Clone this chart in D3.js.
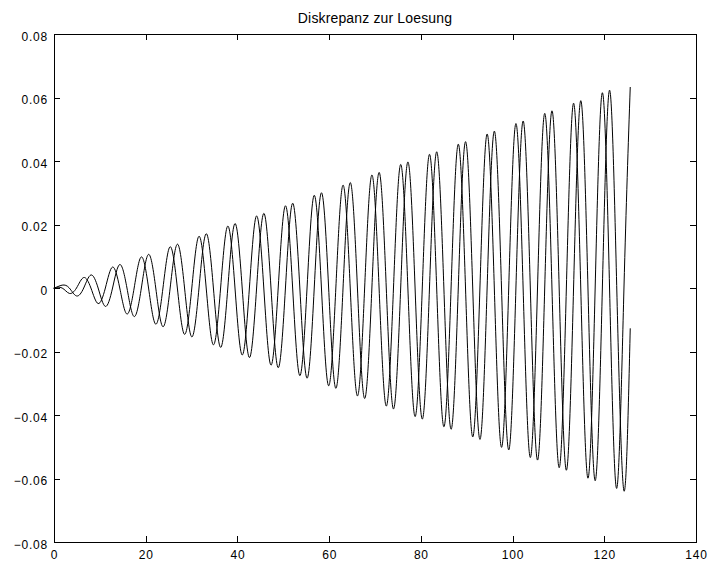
<!DOCTYPE html>
<html><head><meta charset="utf-8">
<script src="https://cdn.jsdelivr.net/npm/d3@7"></script>
<style>html,body{margin:0;padding:0;background:#fff}</style>
</head>
<body>
<svg id="chart" width="710" height="563"></svg>
<script>
const titleText = "Diskrepanz zur Loesung";
const xTicks = [0, 20, 40, 60, 80, 100, 120, 140];
const yTicks = [-0.08, -0.06, -0.04, -0.02, 0, 0.02, 0.04, 0.06, 0.08];

// time positions (extrema / zero crossings)
const tGrid = [0, 0.20, 1.77, 3.34, 4.91, 6.48, 8.05, 9.62, 11.20, 12.77, 14.34, 15.91, 17.48, 19.05, 20.62, 22.19, 23.76, 25.33, 26.90, 28.47, 30.05, 31.62, 33.19, 34.76, 36.33, 37.90, 39.47, 41.04, 42.61, 44.18, 45.75, 47.32, 48.89, 50.47, 52.04, 53.61, 55.18, 56.75, 58.32, 59.89, 61.46, 63.03, 64.60, 66.17, 67.74, 69.32, 70.89, 72.46, 74.03, 75.60, 77.17, 78.74, 80.31, 81.88, 83.45, 85.02, 86.59, 88.16, 89.74, 91.31, 92.88, 94.45, 96.02, 97.59, 99.16, 100.73, 102.30, 103.87, 105.44, 107.01, 108.59, 110.16, 111.73, 113.30, 114.87, 116.44, 118.01, 119.58, 121.15, 122.72, 124.29, 125.66];

const errA = [0, 0.0001, 0, -0.0017, 0, 0.0033, 0, -0.0049, 0, 0.0066, 0, -0.0082, 0, 0.0098, 0, -0.0114, 0, 0.0130, 0, -0.0146, 0, 0.0163, 0, -0.0179, 0, 0.0195, 0, -0.0211, 0, 0.0227, 0, -0.0243, 0, 0.0259, 0, -0.0276, 0, 0.0292, 0, -0.0308, 0, 0.0324, 0, -0.0340, 0, 0.0356, 0, -0.0372, 0, 0.0389, 0, -0.0405, 0, 0.0421, 0, -0.0437, 0, 0.0453, 0, -0.0469, 0, 0.0485, 0, -0.0502, 0, 0.0518, 0, -0.0534, 0, 0.0550, 0, -0.0566, 0, 0.0582, 0, -0.0599, 0, 0.0615, 0, -0.0631, 0, 0.0633];

const errB = [0, 0, 0.0009, 0, -0.0025, 0, 0.0041, 0, -0.0058, 0, 0.0074, 0, -0.0090, 0, 0.0106, 0, -0.0122, 0, 0.0138, 0, -0.0154, 0, 0.0171, 0, -0.0187, 0, 0.0203, 0, -0.0219, 0, 0.0235, 0, -0.0251, 0, 0.0267, 0, -0.0284, 0, 0.0300, 0, -0.0316, 0, 0.0332, 0, -0.0348, 0, 0.0364, 0, -0.0381, 0, 0.0397, 0, -0.0413, 0, 0.0429, 0, -0.0445, 0, 0.0461, 0, -0.0477, 0, 0.0494, 0, -0.0510, 0, 0.0526, 0, -0.0542, 0, 0.0558, 0, -0.0574, 0, 0.0590, 0, -0.0607, 0, 0.0623, 0, -0.0639, -0.0127];

const L = 54, R = 696, T = 34, B = 542;
const svg = d3.select("#chart");
const font = "'Liberation Sans', Arial, Helvetica, sans-serif";

const x = d3.scaleLinear().domain([0, 140]).range([L, R]);
const y = d3.scaleLinear().domain([-0.08, 0.08]).range([B, T]);

const fmtY = d => d === 0 ? "0" : d3.format(".2f")(d);

function styleAxis(g) {
  g.select(".domain").attr("stroke", "#000").attr("stroke-width", 1);
  g.selectAll(".tick line").attr("stroke", "#000").attr("stroke-width", 1);
  g.selectAll("text").attr("fill", "#000").style("font-family", font)
    .style("font-size", "12px").style("letter-spacing", "0.8px");
}

svg.append("g").attr("transform", `translate(0,${B})`)
  .call(d3.axisBottom(x).tickValues(xTicks).tickSize(-6).tickSizeOuter(0).tickPadding(8).tickFormat(d3.format("d")))
  .call(styleAxis);
svg.append("g").attr("transform", `translate(0,${T})`)
  .call(d3.axisTop(x).tickValues(xTicks).tickSize(-6).tickSizeOuter(0).tickFormat(""))
  .call(styleAxis);
const gl = svg.append("g").attr("transform", `translate(${L},0)`)
  .call(d3.axisLeft(y).tickValues(yTicks).tickSize(-6).tickSizeOuter(0).tickPadding(6).tickFormat(fmtY))
  .call(styleAxis);
gl.selectAll("text").attr("dy", "0.5em");
svg.append("g").attr("transform", `translate(${R},0)`)
  .call(d3.axisRight(y).tickValues(yTicks).tickSize(-6).tickSizeOuter(0).tickFormat(""))
  .call(styleAxis);

svg.selectAll(".domain, .tick line").attr("shape-rendering", "crispEdges");

const line = d3.line().x(d => x(d[0])).y(d => y(d[1])).curve(d3.curveNatural);
[errA, errB].forEach(vals => {
  svg.append("path")
    .datum(tGrid.map((t, i) => [t, vals[i]]))
    .attr("fill", "none").attr("stroke", "#000").attr("stroke-width", 1)
    .attr("d", line);
});

svg.append("text").attr("x", (L + R) / 2).attr("y", 23)
  .attr("text-anchor", "middle").attr("fill", "#000")
  .style("font-family", font).style("font-size", "14px").style("letter-spacing", "0.15px")
  .text(titleText);
</script>
</body></html>
